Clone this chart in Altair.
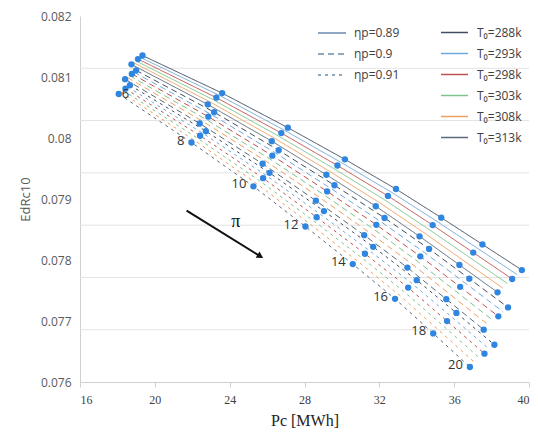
import altair as alt
import pandas as pd

PI = [6, 8, 10, 12, 14, 16, 18, 20]
T0_VALUES = [288, 293, 298, 303, 308, 313]
MARKED_T0 = [288, 298, 313]

# eta_p = 0.89
PC_089 = {
    288: [19.34, 23.60, 27.11, 30.16, 32.89, 35.31, 37.51, 39.62],
    293: [19.22, 23.45, 26.94, 29.96, 32.67, 35.08, 37.26, 39.36],
    298: [19.10, 23.29, 26.76, 29.76, 32.46, 34.85, 37.02, 39.10],
    303: [18.98, 23.14, 26.59, 29.57, 32.24, 34.61, 36.77, 38.84],
    308: [18.86, 22.98, 26.42, 29.37, 32.02, 34.38, 36.52, 38.58],
    313: [18.75, 22.83, 26.25, 29.17, 31.81, 34.15, 36.28, 38.32],
}
EDR_089 = {
    288: [0.081352, 0.080736, 0.080169, 0.079650, 0.079164, 0.078694, 0.078256, 0.077835],
    293: [0.081323, 0.080699, 0.080125, 0.079599, 0.079107, 0.078633, 0.078189, 0.077762],
    298: [0.081294, 0.080661, 0.080081, 0.079549, 0.079051, 0.078572, 0.078122, 0.077689],
    303: [0.081265, 0.080624, 0.080036, 0.079498, 0.078994, 0.078510, 0.078054, 0.077616],
    308: [0.081236, 0.080587, 0.079992, 0.079448, 0.078938, 0.078449, 0.077987, 0.077543],
    313: [0.081207, 0.080550, 0.079948, 0.079397, 0.078881, 0.078388, 0.077920, 0.077470],
}
# eta_p = 0.9
PC_090 = {
    288: [19.00, 23.17, 26.62, 29.60, 32.28, 34.66, 36.81, 38.88],
    293: [18.88, 23.01, 26.45, 29.40, 32.06, 34.42, 36.57, 38.62],
    298: [18.77, 22.86, 26.28, 29.21, 31.84, 34.19, 36.32, 38.36],
    303: [18.65, 22.70, 26.10, 29.01, 31.63, 33.96, 36.07, 38.10],
    308: [18.53, 22.55, 25.93, 28.81, 31.41, 33.73, 35.83, 37.84],
    313: [18.41, 22.40, 25.76, 28.61, 31.19, 33.50, 35.58, 37.58],
}
EDR_090 = {
    288: [0.081109, 0.080424, 0.079799, 0.079226, 0.078690, 0.078182, 0.077694, 0.077223],
    293: [0.081080, 0.080387, 0.079755, 0.079175, 0.078633, 0.078121, 0.077627, 0.077150],
    298: [0.081051, 0.080349, 0.079711, 0.079125, 0.078577, 0.078060, 0.077560, 0.077077],
    303: [0.081022, 0.080312, 0.079666, 0.079074, 0.078520, 0.077998, 0.077492, 0.077004],
    308: [0.080993, 0.080275, 0.079622, 0.079024, 0.078464, 0.077937, 0.077425, 0.076931],
    313: [0.080964, 0.080238, 0.079578, 0.078973, 0.078407, 0.077876, 0.077358, 0.076858],
}
# eta_p = 0.91
PC_091 = {
    288: [18.67, 22.73, 26.13, 29.04, 31.67, 34.00, 36.12, 38.15],
    293: [18.55, 22.58, 25.96, 28.84, 31.45, 33.77, 35.87, 37.88],
    298: [18.43, 22.42, 25.79, 28.65, 31.23, 33.54, 35.62, 37.62],
    303: [18.31, 22.27, 25.61, 28.45, 31.02, 33.30, 35.38, 37.36],
    308: [18.19, 22.11, 25.44, 28.25, 30.80, 33.07, 35.13, 37.10],
    313: [18.07, 21.96, 25.27, 28.05, 30.58, 32.84, 34.88, 36.84],
}
EDR_091 = {
    288: [0.080866, 0.080112, 0.079429, 0.078802, 0.078216, 0.077670, 0.077132, 0.076611],
    293: [0.080837, 0.080075, 0.079385, 0.078751, 0.078159, 0.077609, 0.077065, 0.076538],
    298: [0.080808, 0.080037, 0.079341, 0.078701, 0.078103, 0.077548, 0.076998, 0.076465],
    303: [0.080779, 0.080000, 0.079296, 0.078650, 0.078046, 0.077486, 0.076930, 0.076392],
    308: [0.080750, 0.079963, 0.079252, 0.078600, 0.077990, 0.077425, 0.076863, 0.076319],
    313: [0.080721, 0.079926, 0.079208, 0.078549, 0.077933, 0.077364, 0.076796, 0.076246],
}

X_TICKS = [16, 20, 24, 28, 32, 36, 40]
Y_TICKS = [0.076, 0.077, 0.078, 0.079, 0.080, 0.081, 0.082]
GRID_Y = [0.076857, 0.077714, 0.078571, 0.079429, 0.080286, 0.081143]

ARROW_PC = [21.70, 25.64]
ARROW_EDR = [0.07881, 0.07806]
PI_TEXT_POS = (24.33, 0.07863)

T0_LABELS = [f"T\u2080={t}k" for t in T0_VALUES]
T0_COLORS = ["#3f4f5f", "#6fa8dc", "#c0504d", "#7cc48a", "#eea060", "#5a6a7a"]
ETA_LABELS = ["\u03b7p=0.89", "\u03b7p=0.9", "\u03b7p=0.91"]
ETA_DASH = [[1, 0], [6, 4], [3, 4]]

rows = []
for etalab, pcs, edrs in [(ETA_LABELS[0], PC_089, EDR_089),
                          (ETA_LABELS[1], PC_090, EDR_090),
                          (ETA_LABELS[2], PC_091, EDR_091)]:
    for t0, t0lab in zip(T0_VALUES, T0_LABELS):
        for k, p in enumerate(PI):
            rows.append(dict(pi=p, t0=t0, T0lab=t0lab, ETAlab=etalab,
                             series=f"{t0}-{etalab}",
                             Pc=pcs[t0][k], EdR=edrs[t0][k]))
df = pd.DataFrame(rows)
df_marked = df[df["t0"].isin(MARKED_T0)]

df_lab = pd.DataFrame({"Pc": PC_091[313], "EdR": EDR_091[313],
                       "lab": [str(p) for p in PI]})
df_grid = pd.DataFrame({"EdR": GRID_Y})
df_arrow = pd.DataFrame({"Pc": [ARROW_PC[0]], "EdR": [ARROW_EDR[0]],
                         "Pc2": [ARROW_PC[1]], "EdR2": [ARROW_EDR[1]]})
df_head = pd.DataFrame({"Pc": [ARROW_PC[1]], "EdR": [ARROW_EDR[1]]})
df_pi = pd.DataFrame({"Pc": [PI_TEXT_POS[0]], "EdR": [PI_TEXT_POS[1]], "t": ["\u03c0"]})

X = alt.X("Pc:Q", scale=alt.Scale(domain=[16, 40], nice=False),
          axis=alt.Axis(values=X_TICKS, grid=False, title="Pc [MWh]",
                        labelFont="Liberation Serif", labelFontSize=12,
                        labelColor="#404040", labelPadding=7,
                        tickSize=5, tickColor="#d0d0d0", domainColor="#d0d0d0",
                        titleFont="Liberation Serif", titleFontSize=16,
                        titleFontWeight="normal", titleColor="#222222",
                        titlePadding=7))
Y = alt.Y("EdR:Q", scale=alt.Scale(domain=[0.076, 0.082], nice=False),
          axis=alt.Axis(values=Y_TICKS, format=".3~f", grid=False, ticks=False,
                        title="EdRc10", labelFont="Open Sans", labelFontSize=12,
                        labelColor="#595959", labelPadding=9,
                        domainColor="#d0d0d0",
                        titleFont="Open Sans", titleFontSize=13,
                        titleFontWeight="normal", titleColor="#595959",
                        titlePadding=8))

grid = alt.Chart(df_grid).mark_rule(color="#e3e3e3", strokeWidth=1).encode(y=Y)

lines = alt.Chart(df).mark_line(strokeWidth=1).encode(
    x=X, y=Y,
    color=alt.Color("T0lab:N", scale=alt.Scale(domain=T0_LABELS, range=T0_COLORS),
                    legend=alt.Legend(title=None, orient="none", legendX=360, legendY=2,
                                      symbolType="stroke", symbolSize=729,
                                      symbolStrokeWidth=1.5, labelFont="Open Sans",
                                      labelFontSize=12, labelColor="#404040",
                                      labelOffset=8, rowPadding=-10)),
    strokeDash=alt.StrokeDash("ETAlab:N", scale=alt.Scale(domain=ETA_LABELS, range=ETA_DASH),
                              legend=alt.Legend(title=None, orient="none", legendX=237, legendY=2,
                                                symbolType="stroke", symbolSize=784,
                                                symbolStrokeColor="#6a8caf",
                                                symbolStrokeWidth=1.5, labelFont="Open Sans",
                                                labelFontSize=12, labelColor="#404040",
                                                labelOffset=7, rowPadding=-10)),
    detail="series:N",
    order="pi:Q",
)

points = alt.Chart(df_marked).mark_circle(size=40, color="#2f86e0", opacity=1).encode(x=X, y=Y)

labels = alt.Chart(df_lab[df_lab["lab"] != "6"]).mark_text(
    align="right", baseline="middle", dx=-7, dy=-2, fontSize=13,
    font="Open Sans", color="#333333").encode(x=X, y=Y, text="lab:N")
label6 = alt.Chart(df_lab[df_lab["lab"] == "6"]).mark_text(
    align="left", baseline="middle", dx=3, dy=0, fontSize=13,
    font="Open Sans", color="#333333").encode(x=X, y=Y, text="lab:N")

arrow = alt.Chart(df_arrow).mark_rule(color="#111111", strokeWidth=2).encode(
    x=X, y=Y, x2="Pc2:Q", y2="EdR2:Q")
head = alt.Chart(df_head).mark_point(shape="triangle-right", filled=True, size=55,
                                     color="#111111", opacity=1, angle=31.5).encode(x=X, y=Y)
pi_text = alt.Chart(df_pi).mark_text(fontSize=18, font="Liberation Serif",
                                     color="#111111").encode(x=X, y=Y, text="t:N")

chart = alt.layer(grid, lines, points, labels, label6, arrow, head, pi_text).properties(
    width=449, height=366,
    autosize=alt.AutoSizeParams(type="none"),
    padding={"left": 72, "top": 8, "right": 1, "bottom": 48},
).configure_view(strokeWidth=0).resolve_legend(color="independent", strokeDash="independent")

chart.save("out.html", embed_options={"renderer": "svg", "actions": False})
